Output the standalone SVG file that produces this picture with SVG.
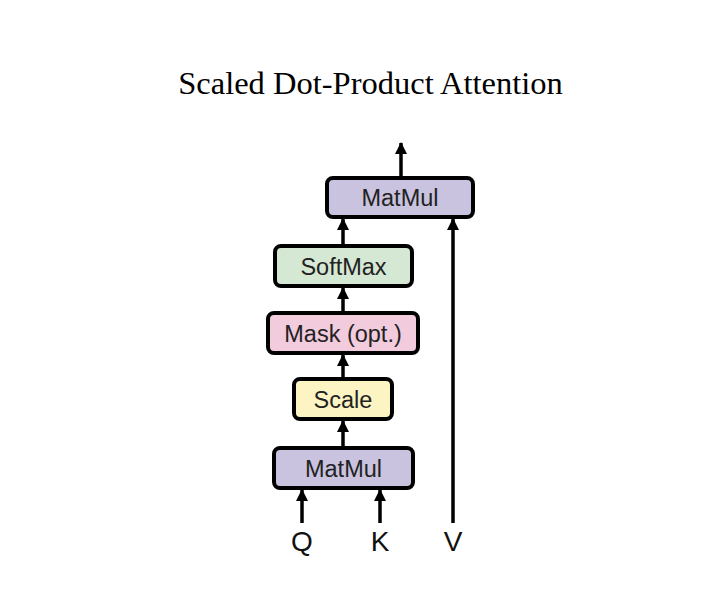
<svg xmlns="http://www.w3.org/2000/svg" width="714" height="614" viewBox="0 0 714 614">
<style>
.box{stroke:#000;stroke-width:4;}
.mm{fill:#c9c3e0;}
.sm{fill:#d5e8d4;}
.mk{fill:#f2cbdd;}
.sc{fill:#fcf5c3;}
.lbl{font-family:"Liberation Sans",Arial,sans-serif;font-size:23.5px;fill:#222;text-anchor:middle;}
.io{font-family:"Liberation Sans",Arial,sans-serif;font-size:28px;fill:#111;text-anchor:middle;}
.title{font-family:"Liberation Serif","Times New Roman",serif;font-size:32.5px;fill:#000;text-anchor:middle;}
.edge{stroke:#000;stroke-width:3.5;fill:none;marker-end:url(#ah);}
</style>
<defs>
<marker id="ah" markerUnits="userSpaceOnUse" markerWidth="12" markerHeight="12" viewBox="0 0 12 12" refX="11" refY="6" orient="auto">
<path d="M0,0 L12,6 L0,12 z" fill="#000"/>
</marker>
</defs>
<rect width="714" height="614" fill="#fff"/>
<text class="title" x="370.5" y="94">Scaled Dot-Product Attention</text>
<g id="connectors">
<line class="edge" x1="401" y1="176" x2="401" y2="143"/>
<line class="edge" x1="343" y1="244" x2="343" y2="219"/>
<line class="edge" x1="343" y1="311" x2="343" y2="288"/>
<line class="edge" x1="343" y1="377" x2="343" y2="355"/>
<line class="edge" x1="343" y1="446" x2="343" y2="421"/>
<line class="edge" x1="302" y1="523" x2="302" y2="490"/>
<line class="edge" x1="380" y1="523" x2="380" y2="490"/>
<line class="edge" x1="453" y1="523" x2="453" y2="219"/>
</g>
<g id="matmul-top">
<rect class="box mm" x="327" y="178" width="146" height="39" rx="6"/>
<text class="lbl" x="400" y="206">MatMul</text>
</g>
<g id="softmax">
<rect class="box sm" x="275" y="246" width="137" height="40" rx="6"/>
<text class="lbl" x="343.5" y="275">SoftMax</text>
</g>
<g id="mask">
<rect class="box mk" x="268" y="313" width="150" height="40" rx="6"/>
<text class="lbl" x="343" y="342">Mask (opt.)</text>
</g>
<g id="scale">
<rect class="box sc" x="294" y="379" width="98" height="40" rx="6"/>
<text class="lbl" x="343" y="408">Scale</text>
</g>
<g id="matmul-bottom">
<rect class="box mm" x="274" y="448" width="139" height="40" rx="6"/>
<text class="lbl" x="343.5" y="477">MatMul</text>
</g>
<g id="q"><text class="io" x="302" y="551">Q</text></g>
<g id="k"><text class="io" x="380" y="551">K</text></g>
<g id="v"><text class="io" x="453" y="551">V</text></g>
</svg>
